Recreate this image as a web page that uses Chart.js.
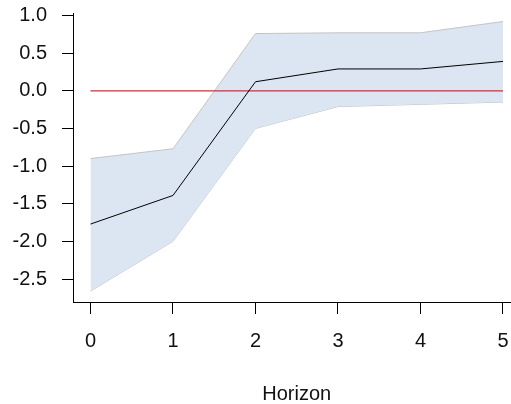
<!DOCTYPE html>
<html>
<head>
<meta charset="utf-8">
<script src="https://cdn.jsdelivr.net/npm/chart.js@4/dist/chart.umd.min.js"></script>
<style>
  html, body { margin: 0; padding: 0; background: #fff; }
  #wrap { width: 511px; height: 404px; }
</style>
</head>
<body>
<div id="wrap"><canvas id="irfChart" width="511" height="404"></canvas></div>
<script>
var horizon = [0, 1, 2, 3, 4, 5];
var irf = [-1.77, -1.39, 0.12, 0.29, 0.29, 0.39];
var upper = [-0.90, -0.77, 0.76, 0.77, 0.77, 0.92];
var lower = [-2.66, -2.00, -0.50, -0.21, -0.18, -0.15];
var zeroLine = [0, 0, 0, 0, 0, 0];
var xTicks = [0, 1, 2, 3, 4, 5];
var yTicks = [-2.5, -2.0, -1.5, -1.0, -0.5, 0.0, 0.5, 1.0];
var xTitle = "Horizon";

var FONT = "'Liberation Sans', Arial, sans-serif";

function toPoints(values) {
  return horizon.map((h, i) => ({ x: h, y: values[i] }));
}

// drop the extra room chart.js keeps for overhanging tick labels
function noLabelPadding(scale) {
  scale.paddingTop = 0;
  scale.paddingBottom = 0;
  scale.paddingLeft = 0;
  scale.paddingRight = 0;
}

// x axis title, centred on the plot region like R does
var xTitlePlugin = {
  id: "xTitle",
  afterDraw(chart) {
    const ctx = chart.ctx;
    const xs = chart.scales.x;
    ctx.save();
    ctx.font = "20px " + FONT;
    ctx.fillStyle = "#111";
    ctx.textAlign = "center";
    ctx.textBaseline = "alphabetic";
    ctx.fillText(xTitle, xs.getPixelForValue(2.5), 400);
    ctx.restore();
  },
};

document.addEventListener("DOMContentLoaded", function () {
  const ctx = document.getElementById("irfChart");

  new Chart(ctx, {
    type: "line",
    data: {
      datasets: [
        {
          label: "irf",
          data: toPoints(irf),
          borderColor: "#000",
          borderWidth: 1,
          pointRadius: 0,
          fill: false,
          order: 0,
        },
        {
          label: "zero",
          data: toPoints(zeroLine),
          borderColor: "#c8323c",
          borderWidth: 1.2,
          pointRadius: 0,
          fill: false,
          order: 1,
        },
        {
          label: "upper",
          data: toPoints(upper),
          borderColor: "#c4c4c4",
          borderWidth: 1,
          pointRadius: 0,
          backgroundColor: "#dce6f2",
          fill: "+1",
          order: 2,
        },
        {
          label: "lower",
          data: toPoints(lower),
          borderColor: "#c4c4c4",
          borderWidth: 1,
          pointRadius: 0,
          fill: false,
          order: 3,
        },
      ],
    },
    options: {
      responsive: false,
      animation: false,
      layout: { padding: { top: 13, right: 0, left: 0, bottom: 0 } },
      plugins: {
        legend: { display: false },
        tooltip: { enabled: false },
      },
      elements: { line: { tension: 0 } },
      scales: {
        x: {
          type: "linear",
          min: -0.212,
          max: 5.097,
          afterBuildTicks: (scale) => {
            scale.ticks = xTicks.map((v) => ({ value: v }));
          },
          afterFit: (scale) => {
            scale.height = 102;
            noLabelPadding(scale);
          },
          grid: {
            drawOnChartArea: false,
            drawTicks: true,
            tickLength: 12,
            color: "#000",
            lineWidth: 1,
          },
          border: { display: true, color: "#000", width: 1 },
          ticks: {
            padding: 15,
            color: "#111",
            font: { family: FONT, size: 20 },
            maxRotation: 0,
            callback: (v) => String(v),
          },
        },
        y: {
          type: "linear",
          min: -2.805,
          max: 1.033,
          afterBuildTicks: (scale) => {
            scale.ticks = yTicks.map((v) => ({ value: v }));
          },
          afterFit: (scale) => {
            scale.width = 73;
            noLabelPadding(scale);
          },
          grid: {
            drawOnChartArea: false,
            drawTicks: true,
            tickLength: 11,
            color: "#000",
            lineWidth: 1,
          },
          border: { display: true, color: "#000", width: 1 },
          ticks: {
            padding: 15,
            color: "#111",
            font: { family: FONT, size: 20 },
            callback: (v) => v.toFixed(1),
          },
        },
      },
    },
    plugins: [xTitlePlugin],
  });
});
</script>
</body>
</html>
